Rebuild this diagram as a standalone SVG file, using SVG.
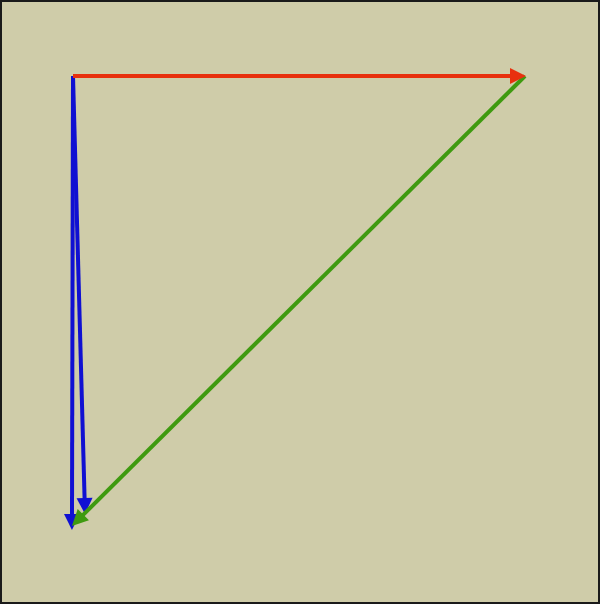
<svg xmlns="http://www.w3.org/2000/svg" width="600" height="604" viewBox="0 0 600 604">
  <defs>
    <style>
      .vec { stroke-width: 4; fill: none; stroke-linecap: butt; }
    </style>
    <marker id="ahRed" markerUnits="userSpaceOnUse" markerWidth="20" markerHeight="20" viewBox="-2 -10 20 20" refX="1" refY="0" orient="auto">
      <path d="M0,-8 L16,0 L0,8 z" fill="#e8300e"/>
    </marker>
    <marker id="ahBlue" markerUnits="userSpaceOnUse" markerWidth="20" markerHeight="20" viewBox="-2 -10 20 20" refX="1" refY="0" orient="auto">
      <path d="M0,-8 L16,0 L0,8 z" fill="#1010d2"/>
    </marker>
    <marker id="ahGreen" markerUnits="userSpaceOnUse" markerWidth="20" markerHeight="20" viewBox="-2 -10 20 20" refX="1" refY="0" orient="auto">
      <path d="M0,-8 L16,0 L0,8 z" fill="#3f9a10"/>
    </marker>
  </defs>
  <rect x="1" y="1" width="598" height="602" fill="#cfcca9" stroke="#1a1a1a" stroke-width="2"/>
  <g id="connectors">
    <line class="vec" x1="73" y1="76" x2="72" y2="515" stroke="#1010d2" marker-end="url(#ahBlue)"/>
    <line class="vec" x1="73" y1="76" x2="84.6" y2="499" stroke="#1010d2" marker-end="url(#ahBlue)"/>
    <line class="vec" x1="525" y1="76" x2="82.6" y2="515.4" stroke="#3f9a10" marker-end="url(#ahGreen)"/>
    <line class="vec" x1="73" y1="76" x2="511" y2="76" stroke="#e8300e" marker-end="url(#ahRed)"/>
  </g>
</svg>
